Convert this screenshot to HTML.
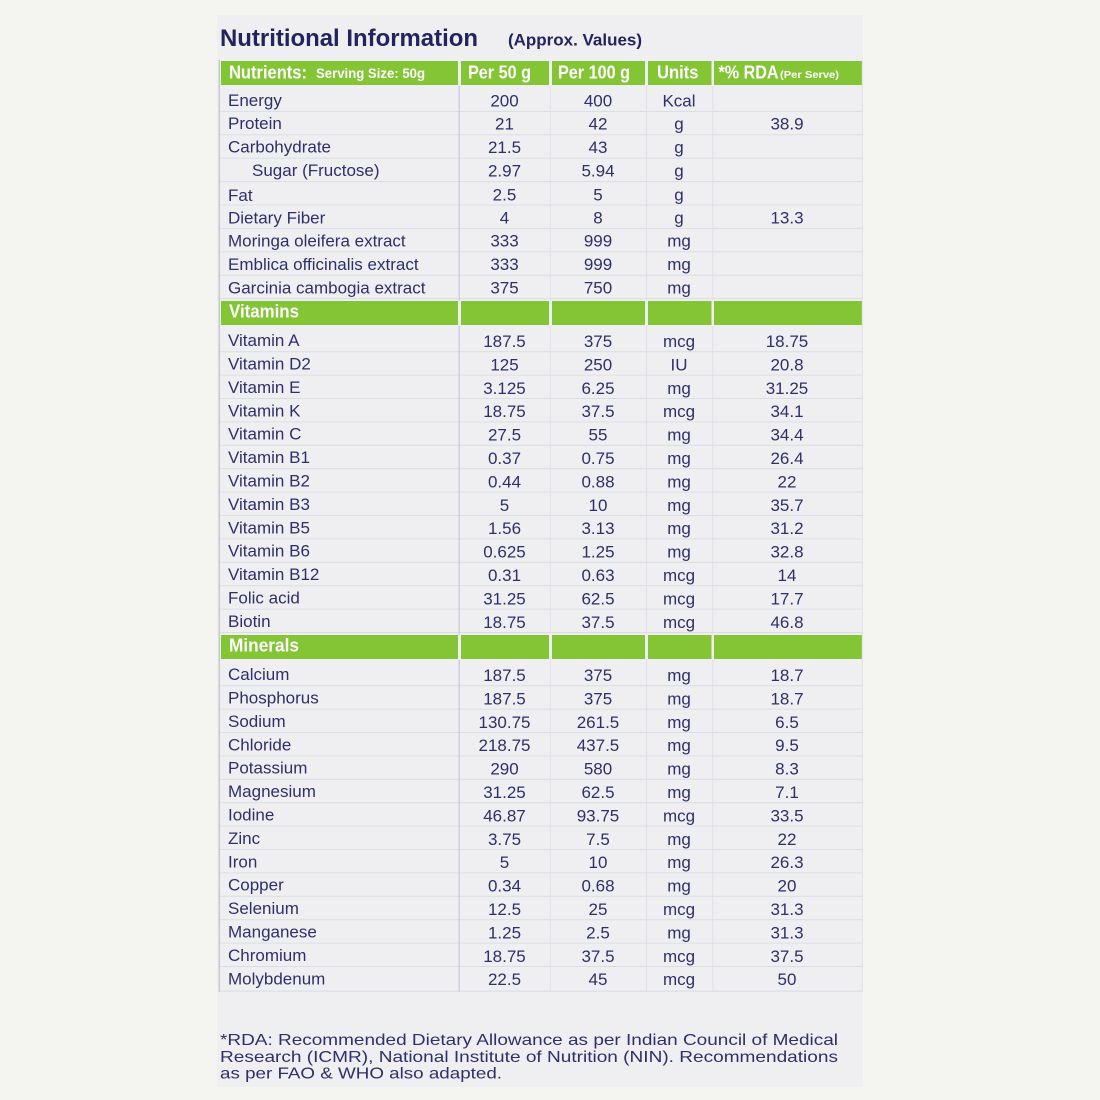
<!DOCTYPE html>
<html><head><meta charset="utf-8"><style>
html,body{margin:0;padding:0;background:#f4f4f1;}
svg{display:block;}
text{font-family:"Liberation Sans",sans-serif;}
.t{font-size:17px;fill:#2d2f6e;}
.m{text-anchor:middle;}
.h{font-size:18px;font-weight:bold;fill:#ffffff;}
</style></head><body>
<svg width="1100" height="1100" viewBox="0 0 1100 1100" xmlns="http://www.w3.org/2000/svg">
<rect x="0" y="0" width="1100" height="1100" fill="#f4f4f1"/>
<rect x="217" y="15" width="646" height="1072" fill="#efeff1"/>
<!-- title -->
<text x="220" y="46" font-size="24" font-weight="bold" fill="#22235f" textLength="258" lengthAdjust="spacingAndGlyphs">Nutritional Information</text>
<text x="508" y="45.5" font-size="17" font-weight="bold" fill="#22235f" textLength="134" lengthAdjust="spacingAndGlyphs">(Approx. Values)</text>
<!-- table left border -->
<rect x="218.5" y="60" width="1.5" height="932" fill="#c8c8cc"/>
<!-- green header -->
<g fill="#84c535">
<rect x="221" y="61" width="237" height="24"/>
<rect x="461" y="61" width="88" height="24"/>
<rect x="552" y="61" width="93" height="24"/>
<rect x="648" y="61" width="63.5" height="24"/>
<rect x="714" y="61" width="148.5" height="24"/>
<rect x="221" y="301" width="237" height="24"/>
<rect x="461" y="301" width="88" height="24"/>
<rect x="552" y="301" width="93" height="24"/>
<rect x="648" y="301" width="63.5" height="24"/>
<rect x="714" y="301" width="148.5" height="24"/>
<rect x="221" y="635" width="237" height="24"/>
<rect x="461" y="635" width="88" height="24"/>
<rect x="552" y="635" width="93" height="24"/>
<rect x="648" y="635" width="63.5" height="24"/>
<rect x="714" y="635" width="148.5" height="24"/>
</g>
<!-- header text -->
<text class="h" x="229" y="78.3" textLength="78" lengthAdjust="spacingAndGlyphs">Nutrients:</text>
<text x="316" y="78" font-size="13.5" font-weight="bold" fill="#fff" textLength="109" lengthAdjust="spacingAndGlyphs">Serving Size: 50g</text>
<text class="h" x="468" y="78.3" textLength="63" lengthAdjust="spacingAndGlyphs">Per 50 g</text>
<text class="h" x="558" y="78.3" textLength="72" lengthAdjust="spacingAndGlyphs">Per 100 g</text>
<text class="h" x="657" y="78.3" textLength="41.5" lengthAdjust="spacingAndGlyphs">Units</text>
<text class="h" x="718.5" y="78.3" textLength="60" lengthAdjust="spacingAndGlyphs">*% RDA</text>
<text x="780" y="78" font-size="10" font-weight="bold" fill="#fff" textLength="59" lengthAdjust="spacingAndGlyphs">(Per Serve)</text>
<text class="h" x="229" y="317.7" textLength="70" lengthAdjust="spacingAndGlyphs">Vitamins</text>
<text class="h" x="229" y="651.7" textLength="70" lengthAdjust="spacingAndGlyphs">Minerals</text>
<!-- row lines -->
<g fill="#dcdce7">
<rect x="220" y="110.9" width="643" height="1"/>
<rect x="220" y="134.3" width="643" height="1"/>
<rect x="220" y="157.7" width="643" height="1"/>
<rect x="220" y="181.1" width="643" height="1"/>
<rect x="220" y="204.5" width="643" height="1"/>
<rect x="220" y="227.9" width="643" height="1"/>
<rect x="220" y="251.3" width="643" height="1"/>
<rect x="220" y="274.7" width="643" height="1"/>
<rect x="220" y="298.1" width="643" height="1"/>
<rect x="220" y="351.2" width="643" height="1"/>
<rect x="220" y="374.6" width="643" height="1"/>
<rect x="220" y="398" width="643" height="1"/>
<rect x="220" y="421.4" width="643" height="1"/>
<rect x="220" y="444.8" width="643" height="1"/>
<rect x="220" y="468.2" width="643" height="1"/>
<rect x="220" y="491.6" width="643" height="1"/>
<rect x="220" y="515" width="643" height="1"/>
<rect x="220" y="538.4" width="643" height="1"/>
<rect x="220" y="561.8" width="643" height="1"/>
<rect x="220" y="585.2" width="643" height="1"/>
<rect x="220" y="608.6" width="643" height="1"/>
<rect x="220" y="632" width="643" height="1"/>
<rect x="220" y="685.2" width="643" height="1"/>
<rect x="220" y="708.6" width="643" height="1"/>
<rect x="220" y="732" width="643" height="1"/>
<rect x="220" y="755.4" width="643" height="1"/>
<rect x="220" y="778.8" width="643" height="1"/>
<rect x="220" y="802.2" width="643" height="1"/>
<rect x="220" y="825.6" width="643" height="1"/>
<rect x="220" y="849" width="643" height="1"/>
<rect x="220" y="872.4" width="643" height="1"/>
<rect x="220" y="895.8" width="643" height="1"/>
<rect x="220" y="919.2" width="643" height="1"/>
<rect x="220" y="942.6" width="643" height="1"/>
<rect x="220" y="966" width="643" height="1"/>
<rect x="220" y="990.5" width="643" height="1.2"/>
</g>
<!-- vertical lines -->
<g>
<rect x="458.5" y="86" width="1.3" height="215" fill="#cacadf"/>
<rect x="458.5" y="326" width="1.3" height="309" fill="#cacadf"/>
<rect x="458.5" y="660" width="1.3" height="332" fill="#cacadf"/>
<rect x="549.8" y="86" width="1" height="215" fill="#e0e0e9"/>
<rect x="549.8" y="326" width="1" height="309" fill="#e0e0e9"/>
<rect x="549.8" y="660" width="1" height="332" fill="#e0e0e9"/>
<rect x="646" y="86" width="1" height="215" fill="#e0e0e9"/>
<rect x="646" y="326" width="1" height="309" fill="#e0e0e9"/>
<rect x="646" y="660" width="1" height="332" fill="#e0e0e9"/>
<rect x="712.3" y="86" width="1" height="215" fill="#e0e0e9"/>
<rect x="712.3" y="326" width="1" height="309" fill="#e0e0e9"/>
<rect x="712.3" y="660" width="1" height="332" fill="#e0e0e9"/>
<rect x="861.8" y="60" width="1" height="932" fill="#e0e0e9"/>
</g>
<!-- data -->
<g class="t">
<text class="t" x="228" y="105.8">Energy</text><text class="t m" x="504.5" y="106.3">200</text><text class="t m" x="598" y="106.3">400</text><text class="t m" x="679" y="106.3">Kcal</text>
<text class="t" x="228" y="129.2">Protein</text><text class="t m" x="504.5" y="129.7">21</text><text class="t m" x="598" y="129.7">42</text><text class="t m" x="679" y="129.7">g</text><text class="t m" x="787" y="129.7">38.9</text>
<text class="t" x="228" y="152.6">Carbohydrate</text><text class="t m" x="504.5" y="153.1">21.5</text><text class="t m" x="598" y="153.1">43</text><text class="t m" x="679" y="153.1">g</text>
<text class="t" x="252" y="176">Sugar (Fructose)</text><text class="t m" x="504.5" y="176.5">2.97</text><text class="t m" x="598" y="176.5">5.94</text><text class="t m" x="679" y="176.5">g</text>
<text class="t" x="228" y="201">Fat</text><text class="t m" x="504.5" y="200.5">2.5</text><text class="t m" x="598" y="200.5">5</text><text class="t m" x="679" y="200.5">g</text>
<text class="t" x="228" y="223.5">Dietary Fiber</text><text class="t m" x="504.5" y="223.3">4</text><text class="t m" x="598" y="223.3">8</text><text class="t m" x="679" y="223.3">g</text><text class="t m" x="787" y="223.3">13.3</text>
<text class="t" x="228" y="246.5">Moringa oleifera extract</text><text class="t m" x="504.5" y="246.7">333</text><text class="t m" x="598" y="246.7">999</text><text class="t m" x="679" y="246.7">mg</text>
<text class="t" x="228" y="270">Emblica officinalis extract</text><text class="t m" x="504.5" y="270.1">333</text><text class="t m" x="598" y="270.1">999</text><text class="t m" x="679" y="270.1">mg</text>
<text class="t" x="228" y="293.3">Garcinia cambogia extract</text><text class="t m" x="504.5" y="293.5">375</text><text class="t m" x="598" y="293.5">750</text><text class="t m" x="679" y="293.5">mg</text>

<text class="t" x="228" y="346.1">Vitamin A</text><text class="t m" x="504.5" y="347">187.5</text><text class="t m" x="598" y="347">375</text><text class="t m" x="679" y="347">mcg</text><text class="t m" x="787" y="347">18.75</text>
<text class="t" x="228" y="369.5">Vitamin D2</text><text class="t m" x="504.5" y="370.4">125</text><text class="t m" x="598" y="370.4">250</text><text class="t m" x="679" y="370.4">IU</text><text class="t m" x="787" y="370.4">20.8</text>
<text class="t" x="228" y="392.9">Vitamin E</text><text class="t m" x="504.5" y="393.8">3.125</text><text class="t m" x="598" y="393.8">6.25</text><text class="t m" x="679" y="393.8">mg</text><text class="t m" x="787" y="393.8">31.25</text>
<text class="t" x="228" y="416.3">Vitamin K</text><text class="t m" x="504.5" y="417.2">18.75</text><text class="t m" x="598" y="417.2">37.5</text><text class="t m" x="679" y="417.2">mcg</text><text class="t m" x="787" y="417.2">34.1</text>
<text class="t" x="228" y="439.7">Vitamin C</text><text class="t m" x="504.5" y="440.6">27.5</text><text class="t m" x="598" y="440.6">55</text><text class="t m" x="679" y="440.6">mg</text><text class="t m" x="787" y="440.6">34.4</text>
<text class="t" x="228" y="463.1">Vitamin B1</text><text class="t m" x="504.5" y="464">0.37</text><text class="t m" x="598" y="464">0.75</text><text class="t m" x="679" y="464">mg</text><text class="t m" x="787" y="464">26.4</text>
<text class="t" x="228" y="486.5">Vitamin B2</text><text class="t m" x="504.5" y="487.4">0.44</text><text class="t m" x="598" y="487.4">0.88</text><text class="t m" x="679" y="487.4">mg</text><text class="t m" x="787" y="487.4">22</text>
<text class="t" x="228" y="509.9">Vitamin B3</text><text class="t m" x="504.5" y="510.8">5</text><text class="t m" x="598" y="510.8">10</text><text class="t m" x="679" y="510.8">mg</text><text class="t m" x="787" y="510.8">35.7</text>
<text class="t" x="228" y="533.3">Vitamin B5</text><text class="t m" x="504.5" y="534.2">1.56</text><text class="t m" x="598" y="534.2">3.13</text><text class="t m" x="679" y="534.2">mg</text><text class="t m" x="787" y="534.2">31.2</text>
<text class="t" x="228" y="556.7">Vitamin B6</text><text class="t m" x="504.5" y="557.6">0.625</text><text class="t m" x="598" y="557.6">1.25</text><text class="t m" x="679" y="557.6">mg</text><text class="t m" x="787" y="557.6">32.8</text>
<text class="t" x="228" y="580.1">Vitamin B12</text><text class="t m" x="504.5" y="581">0.31</text><text class="t m" x="598" y="581">0.63</text><text class="t m" x="679" y="581">mcg</text><text class="t m" x="787" y="581">14</text>
<text class="t" x="228" y="603.5">Folic acid</text><text class="t m" x="504.5" y="604.4">31.25</text><text class="t m" x="598" y="604.4">62.5</text><text class="t m" x="679" y="604.4">mcg</text><text class="t m" x="787" y="604.4">17.7</text>
<text class="t" x="228" y="626.9">Biotin</text><text class="t m" x="504.5" y="627.8">18.75</text><text class="t m" x="598" y="627.8">37.5</text><text class="t m" x="679" y="627.8">mcg</text><text class="t m" x="787" y="627.8">46.8</text>

<text class="t" x="228" y="680.1">Calcium</text><text class="t m" x="504.5" y="681">187.5</text><text class="t m" x="598" y="681">375</text><text class="t m" x="679" y="681">mg</text><text class="t m" x="787" y="681">18.7</text>
<text class="t" x="228" y="703.5">Phosphorus</text><text class="t m" x="504.5" y="704.4">187.5</text><text class="t m" x="598" y="704.4">375</text><text class="t m" x="679" y="704.4">mg</text><text class="t m" x="787" y="704.4">18.7</text>
<text class="t" x="228" y="726.9">Sodium</text><text class="t m" x="504.5" y="727.8">130.75</text><text class="t m" x="598" y="727.8">261.5</text><text class="t m" x="679" y="727.8">mg</text><text class="t m" x="787" y="727.8">6.5</text>
<text class="t" x="228" y="750.3">Chloride</text><text class="t m" x="504.5" y="751.2">218.75</text><text class="t m" x="598" y="751.2">437.5</text><text class="t m" x="679" y="751.2">mg</text><text class="t m" x="787" y="751.2">9.5</text>
<text class="t" x="228" y="773.7">Potassium</text><text class="t m" x="504.5" y="774.6">290</text><text class="t m" x="598" y="774.6">580</text><text class="t m" x="679" y="774.6">mg</text><text class="t m" x="787" y="774.6">8.3</text>
<text class="t" x="228" y="797.1">Magnesium</text><text class="t m" x="504.5" y="798">31.25</text><text class="t m" x="598" y="798">62.5</text><text class="t m" x="679" y="798">mg</text><text class="t m" x="787" y="798">7.1</text>
<text class="t" x="228" y="820.5">Iodine</text><text class="t m" x="504.5" y="821.4">46.87</text><text class="t m" x="598" y="821.4">93.75</text><text class="t m" x="679" y="821.4">mcg</text><text class="t m" x="787" y="821.4">33.5</text>
<text class="t" x="228" y="843.9">Zinc</text><text class="t m" x="504.5" y="844.8">3.75</text><text class="t m" x="598" y="844.8">7.5</text><text class="t m" x="679" y="844.8">mg</text><text class="t m" x="787" y="844.8">22</text>
<text class="t" x="228" y="867.3">Iron</text><text class="t m" x="504.5" y="868.2">5</text><text class="t m" x="598" y="868.2">10</text><text class="t m" x="679" y="868.2">mg</text><text class="t m" x="787" y="868.2">26.3</text>
<text class="t" x="228" y="890.7">Copper</text><text class="t m" x="504.5" y="891.6">0.34</text><text class="t m" x="598" y="891.6">0.68</text><text class="t m" x="679" y="891.6">mg</text><text class="t m" x="787" y="891.6">20</text>
<text class="t" x="228" y="914.1">Selenium</text><text class="t m" x="504.5" y="915">12.5</text><text class="t m" x="598" y="915">25</text><text class="t m" x="679" y="915">mcg</text><text class="t m" x="787" y="915">31.3</text>
<text class="t" x="228" y="937.5">Manganese</text><text class="t m" x="504.5" y="938.4">1.25</text><text class="t m" x="598" y="938.4">2.5</text><text class="t m" x="679" y="938.4">mg</text><text class="t m" x="787" y="938.4">31.3</text>
<text class="t" x="228" y="960.9">Chromium</text><text class="t m" x="504.5" y="961.8">18.75</text><text class="t m" x="598" y="961.8">37.5</text><text class="t m" x="679" y="961.8">mcg</text><text class="t m" x="787" y="961.8">37.5</text>
<text class="t" x="228" y="984.3">Molybdenum</text><text class="t m" x="504.5" y="985.2">22.5</text><text class="t m" x="598" y="985.2">45</text><text class="t m" x="679" y="985.2">mcg</text><text class="t m" x="787" y="985.2">50</text>
</g>
<!-- footnote -->
<g font-size="16" fill="#2d2f6e">
<text x="220" y="1045" textLength="618" lengthAdjust="spacingAndGlyphs">*RDA: Recommended Dietary Allowance as per Indian Council of Medical</text>
<text x="220" y="1062" textLength="618" lengthAdjust="spacingAndGlyphs">Research (ICMR), National Institute of Nutrition (NIN). Recommendations</text>
<text x="220" y="1078.5" textLength="282" lengthAdjust="spacingAndGlyphs">as per FAO &amp; WHO also adapted.</text>
</g>
</svg>
</body></html>
